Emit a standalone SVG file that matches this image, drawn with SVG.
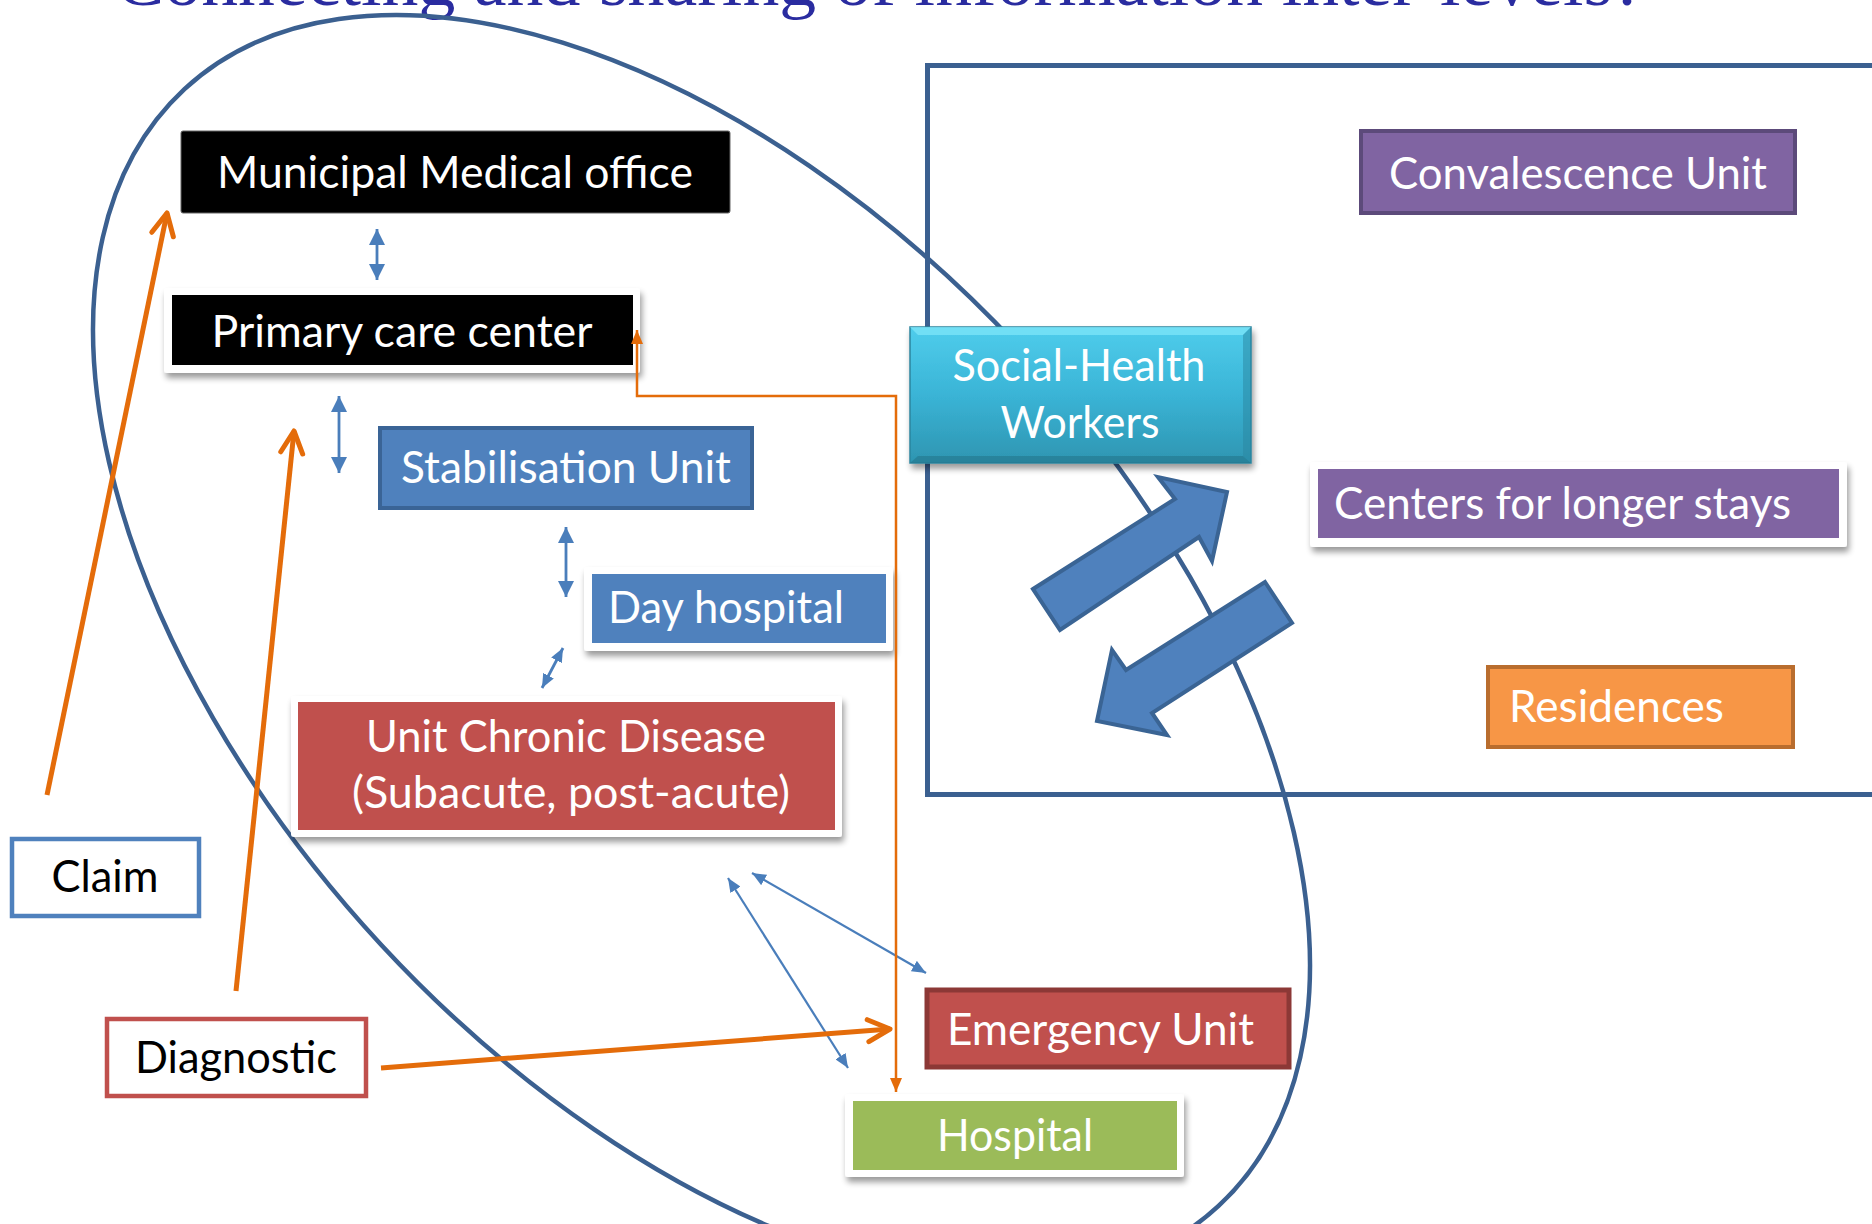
<svg xmlns="http://www.w3.org/2000/svg" width="1872" height="1224" viewBox="0 0 1872 1224">
<defs>
<style>
.t{font-family:Lato,"Liberation Sans",sans-serif;font-size:44.5px;fill:#fff}
.k{fill:#000}
.m{text-anchor:middle}
.title{font-family:"Liberation Serif",serif;font-size:72px;fill:#2A2CA0}
.frame{fill:#fff;filter:url(#sh)}
.thin{fill:none;stroke:#4A7EBB;stroke-width:2.2}
.small{fill:none;stroke:#4A7EBB;stroke-width:2.8}
.or{fill:none;stroke:#E46C0A;stroke-width:5}
.blk{fill:#4F81BD;stroke:#3A6494;stroke-width:4;stroke-linejoin:miter}
</style>
<filter id="sh" x="-10%" y="-20%" width="120%" height="150%">
<feGaussianBlur in="SourceAlpha" stdDeviation="3"/>
<feOffset dx="2" dy="5" result="b"/>
<feComponentTransfer><feFuncA type="linear" slope="0.4"/></feComponentTransfer>
<feMerge><feMergeNode/><feMergeNode in="SourceGraphic"/></feMerge>
</filter>
<linearGradient id="teal" x1="0" y1="0" x2="0" y2="1">
<stop offset="0" stop-color="#4FCDEC"/>
<stop offset="0.5" stop-color="#3AB4D6"/>
<stop offset="1" stop-color="#2E95B1"/>
</linearGradient>
<marker id="tri" viewBox="0 0 16 16" refX="16" refY="8" markerWidth="16" markerHeight="16" markerUnits="userSpaceOnUse" orient="auto-start-reverse"><path d="M0,0 L16,8 L0,16 z" fill="#4A7EBB"/></marker>
<marker id="tris" viewBox="0 0 14 12" refX="14" refY="6" markerWidth="14" markerHeight="12" markerUnits="userSpaceOnUse" orient="auto-start-reverse"><path d="M0,0 L14,6 L0,12 z" fill="#4A7EBB"/></marker>
<marker id="trio" viewBox="0 0 14 12" refX="14" refY="6" markerWidth="14" markerHeight="12" markerUnits="userSpaceOnUse" orient="auto-start-reverse"><path d="M0,0 L14,6 L0,12 z" fill="#E46C0A"/></marker>
<marker id="chev" viewBox="-26 -14 30 28" refX="0" refY="0" markerWidth="30" markerHeight="28" markerUnits="userSpaceOnUse" orient="auto" overflow="visible"><path d="M-22,-11 L0,0 L-22,11" fill="none" stroke="#E46C0A" stroke-width="5" stroke-linecap="round" stroke-linejoin="round"/></marker>
</defs>
<rect width="1872" height="1224" fill="#fff"/>
<text class="title" x="115" y="5" textLength="1530" lengthAdjust="spacingAndGlyphs">Connecting and sharing of information inter-levels?</text>
<g id="frames">
<ellipse cx="701.5" cy="647.5" rx="761" ry="437" transform="rotate(47.2 701.5 647.5)" fill="none" stroke="#3B6090" stroke-width="4.5"/>
<rect x="927.5" y="65.5" width="1000" height="729" fill="none" stroke="#3B6090" stroke-width="5"/>
</g>
<g id="municipal">
<rect x="181" y="131" width="549" height="82" rx="2" fill="#000" stroke="#666" stroke-width="1"/>
<text class="t m" x="455" y="188" textLength="476" lengthAdjust="spacingAndGlyphs">Municipal Medical office</text>
</g>
<g id="primary">
<rect class="frame" x="164" y="288" width="476" height="85" rx="3"/>
<rect x="172" y="295" width="461" height="70" fill="#000"/>
<text class="t m" x="402" y="347" textLength="381" lengthAdjust="spacingAndGlyphs">Primary care center</text>
</g>
<g id="stabilisation">
<rect x="380" y="428" width="372" height="80" fill="#4F81BD" stroke="#3A6496" stroke-width="4"/>
<text class="t m" x="566" y="483" textLength="330" lengthAdjust="spacingAndGlyphs">Stabilisation Unit</text>
</g>
<g id="dayhospital">
<rect class="frame" x="584" y="567" width="309" height="84" rx="3"/>
<rect x="592" y="574" width="294" height="69" fill="#4F81BD"/>
<text class="t" x="608" y="623" textLength="236" lengthAdjust="spacingAndGlyphs">Day hospital</text>
</g>
<g id="chronic">
<rect class="frame" x="291" y="696" width="551" height="141" rx="3"/>
<rect x="298" y="702" width="537" height="128" fill="#C0504D"/>
<text class="t m" x="566" y="752" textLength="400" lengthAdjust="spacingAndGlyphs">Unit Chronic Disease</text>
<text class="t m" x="571" y="808" textLength="438" lengthAdjust="spacingAndGlyphs">(Subacute, post-acute)</text>
</g>
<g id="convalescence">
<rect x="1361" y="131" width="434" height="82" fill="#8064A2" stroke="#5C4A7A" stroke-width="4"/>
<text class="t m" x="1578" y="189" textLength="378" lengthAdjust="spacingAndGlyphs">Convalescence Unit</text>
</g>
<g id="social">
<rect x="910" y="327" width="341" height="136" fill="url(#teal)" stroke="#2B859E" stroke-width="1.5" filter="url(#sh)"/>
<polygon points="910,327 1251,327 1243,335 918,335" fill="#7AE3F8" opacity="0.8"/>
<polygon points="910,463 1251,463 1243,456 918,456" fill="#24778C" opacity="0.6"/>
<polygon points="1251,327 1251,463 1243,456 1243,335" fill="#2A86A0" opacity="0.5"/>
<text class="t m" x="1079" y="381" textLength="253" lengthAdjust="spacingAndGlyphs">Social-Health</text>
<text class="t m" x="1080" y="438" textLength="159" lengthAdjust="spacingAndGlyphs">Workers</text>
</g>
<g id="centers">
<rect class="frame" x="1310" y="462" width="537" height="85" rx="3"/>
<rect x="1318" y="469" width="521" height="69" fill="#8064A2"/>
<text class="t" x="1334" y="519" textLength="457" lengthAdjust="spacingAndGlyphs">Centers for longer stays</text>
</g>
<g id="residences">
<rect x="1488" y="667" width="305" height="80" fill="#F79646" stroke="#B96D2E" stroke-width="4"/>
<text class="t" x="1509" y="722" textLength="215" lengthAdjust="spacingAndGlyphs">Residences</text>
</g>
<g id="claim">
<rect x="12" y="839" width="187" height="77" fill="#fff" stroke="#4F81BD" stroke-width="4.5"/>
<text class="t k m" x="105" y="892" textLength="107" lengthAdjust="spacingAndGlyphs">Claim</text>
</g>
<g id="diagnostic">
<rect x="107" y="1019" width="259" height="77" fill="#fff" stroke="#C0504D" stroke-width="4.5"/>
<text class="t k m" x="236" y="1073" textLength="202" lengthAdjust="spacingAndGlyphs">Diagnostic</text>
</g>
<g id="emergency">
<rect x="927" y="990" width="362" height="77" fill="#C0504D" stroke="#8C3836" stroke-width="5"/>
<text class="t" x="947" y="1045" textLength="307" lengthAdjust="spacingAndGlyphs">Emergency Unit</text>
</g>
<g id="hospital">
<rect class="frame" x="845" y="1094" width="339" height="83" rx="3"/>
<rect x="853" y="1101" width="324" height="69" fill="#9BBB59"/>
<text class="t m" x="1015" y="1151" textLength="156" lengthAdjust="spacingAndGlyphs">Hospital</text>
</g>
<g id="connectors">
<line class="small" x1="377" y1="229" x2="377" y2="280" marker-start="url(#tri)" marker-end="url(#tri)"/>
<line class="small" x1="339" y1="396" x2="339" y2="473" marker-start="url(#tri)" marker-end="url(#tri)"/>
<line class="small" x1="566" y1="527" x2="566" y2="597" marker-start="url(#tri)" marker-end="url(#tri)"/>
<line class="small" x1="563" y1="648" x2="542" y2="688" marker-start="url(#tris)" marker-end="url(#tris)"/>
<line class="thin" x1="728" y1="878" x2="848" y2="1068" marker-start="url(#tris)" marker-end="url(#tris)"/>
<line class="thin" x1="752" y1="873" x2="926" y2="973" marker-start="url(#tris)" marker-end="url(#tris)"/>
<path d="M896,1092 L896,396 L637,396 L637,330" fill="none" stroke="#E46C0A" stroke-width="2.5" marker-start="url(#trio)" marker-end="url(#trio)"/>
<line class="or" x1="47" y1="795" x2="167" y2="213" marker-end="url(#chev)"/>
<line class="or" x1="236" y1="991" x2="294" y2="431" marker-end="url(#chev)"/>
<line class="or" x1="381" y1="1068" x2="890" y2="1029" stroke-width="5.5" marker-end="url(#chev)"/>
<polygon class="blk" points="1033,589 1175,499 1158,477 1227,492 1212,561 1199,537 1060,630"/>
<polygon class="blk" points="1265,582 1292,623 1152,713 1167,735 1097,721 1112,650 1126,670"/>
</g>
</svg>
